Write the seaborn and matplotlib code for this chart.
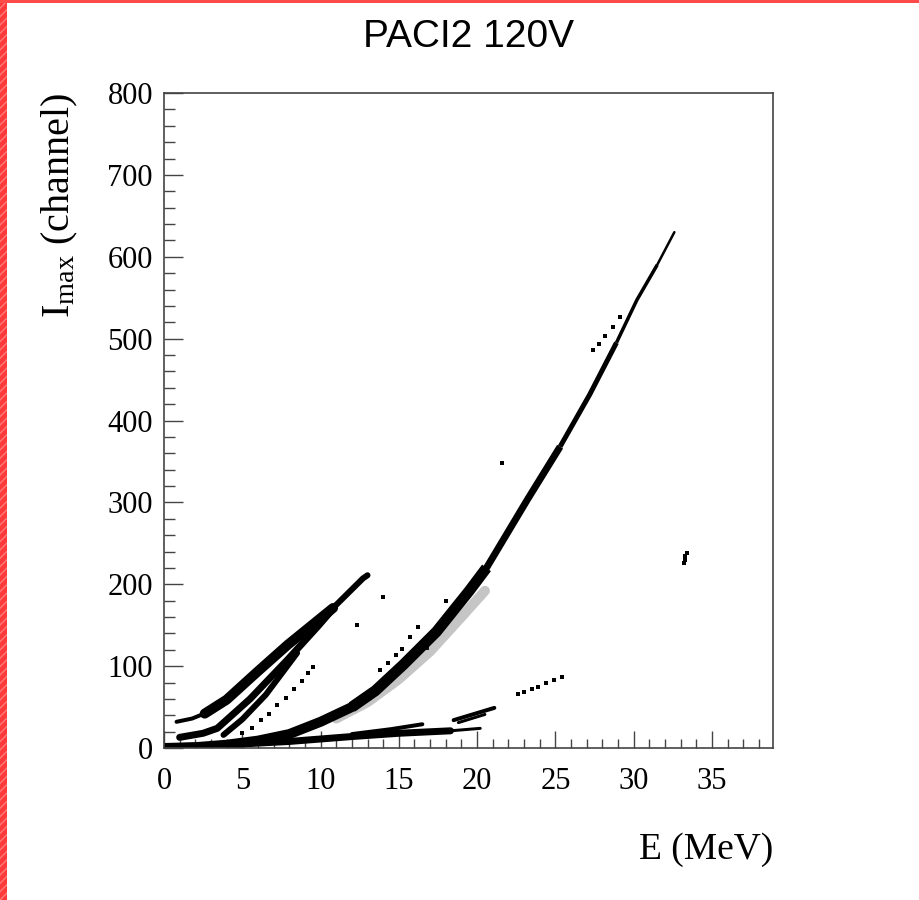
import numpy as np
import pandas as pd
import matplotlib
matplotlib.use("Agg")
import matplotlib.pyplot as plt
from matplotlib.patches import Rectangle
import seaborn as sns

# ---------------- data ----------------
# main (parabolic) band
p_E = [0, 2, 4, 6, 8, 10, 12, 13.5, 15.3, 17.4, 19.5, 20.6, 23.2, 25.3, 27.2, 28.9, 30.2, 31.5, 32.6]
p_I = [0, 1, 4, 9, 17, 32, 50, 70, 102, 142, 192, 220, 303, 368, 432, 495, 547, 590, 630]
# scattered halo below the main band
h_E = [11, 13, 15, 17, 19, 20.5]
h_I = [36, 56, 84, 118, 160, 192]
# low flat band
l_E = [0, 4, 8, 12, 15, 18.3, 20.2]
l_I = [1, 4, 8, 14, 18, 21, 24]
l2_E = [12, 14.5, 16.5]
l2_I = [17, 23, 29]
# small diagonal band near 20 MeV
d_E = [18.5, 21.1]
d_I = [34, 49]
d2_E = [18.8, 20.5]
d2_I = [31, 41]
# steep bands at low energy
b1_E = [2.6, 4.0, 5.9, 7.9, 10.8, 12.7, 13.0]
b1_I = [42, 59, 92, 126, 171, 207, 211]
b1x_E = [0.8, 1.8, 2.7]
b1x_I = [32, 36, 43]
b2_E = [1.0, 2.5, 3.4, 5.5, 7.9, 9.8, 10.8]
b2_I = [13, 18, 24, 60, 108, 148, 170]
b3_E = [3.8, 5.0, 6.5, 8.5]
b3_I = [16, 35, 65, 116]
# sparse trails / isolated counts
f1_E = [5.0, 5.6, 6.2, 6.7, 7.2, 7.8, 8.3, 8.8, 9.2, 9.5]
f1_I = [18, 25, 34, 42, 52, 61, 72, 82, 92, 99]
f2_E = [13.8, 14.3, 14.8, 15.2, 15.7, 16.2]
f2_I = [95, 104, 113, 121, 135, 148]
c1_E = [22.6, 23.0, 23.5, 23.9, 24.4, 24.9, 25.4]
c1_I = [66, 69, 72, 75, 79, 83, 87]
c2_E = [33.2, 33.25, 33.3, 33.4]
c2_I = [226, 230, 234, 238]
s_E = [27.4, 27.8, 28.2, 28.7, 29.1]
s_I = [486, 494, 503, 514, 526]
iso_E = [21.6, 14.0, 16.8, 12.3, 18.0]
iso_I = [348, 184, 122, 150, 180]

x_ticks = [0, 5, 10, 15, 20, 25, 30, 35]
y_ticks = [0, 100, 200, 300, 400, 500, 600, 700, 800]

# ---------------- figure ----------------
sns.set_theme(style="white")
plt.rcParams["font.family"] = ["Liberation Serif", "DejaVu Serif"]
plt.rcParams["mathtext.fontset"] = "custom"
plt.rcParams["mathtext.rm"] = "Liberation Serif"
plt.rcParams["mathtext.it"] = "Liberation Serif:italic"

fig = plt.figure(figsize=(9.2, 9.0), dpi=100)
fig.patch.set_facecolor("white")
ax = fig.add_axes([164 / 920, 152 / 900, 609 / 920, 655 / 900])
ax.set_facecolor("white")

PX = 0.72  # points per pixel


def band(E, I, w, lo=None, hi=None, color="black", alpha=1.0, cap="round"):
    E = np.asarray(E, float)
    I = np.asarray(I, float)
    m = np.ones_like(E, bool)
    if lo is not None:
        m &= E >= lo
    if hi is not None:
        m &= E <= hi
    sns.lineplot(x=E[m], y=I[m], ax=ax, color=color, alpha=alpha, linewidth=w * PX,
                 sort=False, estimator=None, solid_capstyle=cap, legend=False)


# halo
band(h_E, h_I, 10, color="#404040", alpha=0.3)
# main band
band(p_E, p_I, 10, hi=13.5)
band(p_E, p_I, 11, lo=12, hi=20.6, cap="butt")
band(p_E, p_I, 7, lo=19.5, hi=25.3, cap="butt")
band(p_E, p_I, 5, lo=25.3, hi=28.9, cap="butt")
band(p_E, p_I, 3.5, lo=28.9, hi=31.5, cap="butt")
band(p_E, p_I, 2.5, lo=31.5)
# low flat band
band(l_E, l_I, 7, hi=18.3)
band(l_E, l_I, 3, lo=18.3)
band(l2_E, l2_I, 4)
band(d_E, d_I, 4)
band(d2_E, d2_I, 3)
# steep bands
band(b1_E, b1_I, 10, hi=10.8)
band(b1_E, b1_I, 6, lo=10.8)
band(b1x_E, b1x_I, 4)
band(b2_E, b2_I, 7)
band(b3_E, b3_I, 6)

# sparse points
for E, I in [(f1_E, f1_I), (f2_E, f2_I), (c1_E, c1_I), (c2_E, c2_I), (s_E, s_I), (iso_E, iso_I)]:
    sns.scatterplot(x=E, y=I, ax=ax, color="black", s=5, marker="s", linewidth=0,
                    legend=False)

ax.set_xlim(0, 38.9)
ax.set_ylim(0, 800)
ax.set_xticks(x_ticks)
ax.set_yticks(y_ticks)
ax.set_xticklabels([str(t) for t in x_ticks])
ax.set_yticklabels([str(t) for t in y_ticks])
ax.xaxis.set_minor_locator(matplotlib.ticker.MultipleLocator(1))
ax.yaxis.set_minor_locator(matplotlib.ticker.MultipleLocator(20))
ax.tick_params(axis="both", which="both", direction="in", colors="#444444",
               labelcolor="black", labelsize=22, width=1.0,
               bottom=True, left=True, top=False, right=False)
ax.tick_params(axis="x", which="major", length=12.5, pad=14)
ax.tick_params(axis="x", which="minor", length=6.5)
ax.tick_params(axis="y", which="major", length=14, pad=8)
ax.tick_params(axis="y", which="minor", length=8)
for sp in ax.spines.values():
    sp.set_visible(True)
    sp.set_color("#444444")
    sp.set_linewidth(1.2)
ax.set_xlabel("")
ax.set_ylabel("")

ax.text(1.0, -0.156, "E (MeV)", transform=ax.transAxes, ha="right", va="center",
        fontsize=27, color="black")
ax.text(-0.171, 1.0, r"I$_{\rm max}$ (channel)", transform=ax.transAxes, rotation=90,
        ha="center", va="top", fontsize=29, color="black")

fig.text(469 / 920, 1 - 37 / 900, "PACI2 120V", ha="center", va="center",
         fontsize=28, family=["Liberation Sans", "DejaVu Sans"], color="black")

# red frame strips (left and top)
fig.patches.append(Rectangle((0, 0), 7 / 920, 1, transform=fig.transFigure,
                             facecolor="#ff3a3a", edgecolor="#ff7a7a", hatch="////",
                             linewidth=0, zorder=10))
fig.patches.append(Rectangle((0, 1 - 3 / 900), 1, 3 / 900, transform=fig.transFigure,
                             facecolor="#ff4a4a", edgecolor="none", linewidth=0, zorder=10))

fig.savefig("out.png", dpi=100, facecolor="white")
